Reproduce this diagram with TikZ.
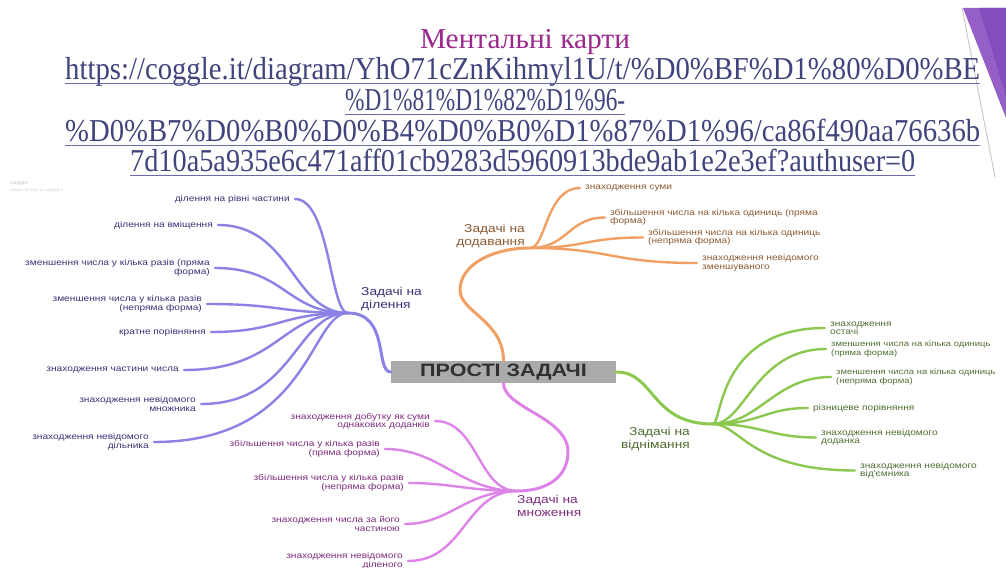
\documentclass[tikz,border=0pt]{standalone}
\usepackage{fontspec}
\usepackage{graphicx}
\setmainfont{Liberation Serif}
\newfontfamily\dfont[FakeStretch=1.2]{Liberation Sans}
\definecolor{titlec}{RGB}{155,40,140}
\definecolor{urlc}{RGB}{64,68,124}
\definecolor{ulc}{RGB}{105,108,168}
\definecolor{pcol}{RGB}{140,130,230}
\definecolor{ptext}{RGB}{58,50,120}
\definecolor{ocol}{RGB}{240,160,100}
\definecolor{otext}{RGB}{140,90,50}
\definecolor{gcol}{RGB}{140,200,80}
\definecolor{gtext}{RGB}{80,110,50}
\definecolor{kcol}{RGB}{222,132,232}
\definecolor{ktext}{RGB}{125,45,125}
\definecolor{cfill}{RGB}{170,170,170}
\definecolor{ctext}{RGB}{48,48,48}
\definecolor{trimain}{RGB}{150,95,200}
\definecolor{tridark}{RGB}{132,76,188}
\begin{document}
\begin{tikzpicture}[x=1bp,y=-1bp,
  leafL/.style={anchor=east, align=right, inner xsep=5bp, inner ysep=0pt, font=\dfont\fontsize{8.5}{8.5}\selectfont},
  leafR/.style={anchor=west, align=left, inner xsep=5bp, inner ysep=0pt, font=\dfont\fontsize{8.5}{8.5}\selectfont},
  leafRs/.style={leafR, font=\dfont\fontsize{7.9}{8.5}\selectfont},
  blbl/.style={inner sep=0pt, font=\dfont\fontsize{11.5}{12.5}\selectfont},
  leafline/.style={line width=2.4bp, line cap=round},
  trunk/.style={line width=3bp, line cap=round},
  urlnode/.style={anchor=base west, inner sep=0pt, text=urlc, font=\fontsize{32}{32}\selectfont},
  uline/.style={draw=ulc, line width=1.3bp},
  centerbox/.style={fill=cfill, minimum width=225bp, minimum height=22bp, inner sep=0pt, text=ctext, font=\dfont\bfseries\fontsize{18}{18}\selectfont}
]
\path[use as bounding box] (0,0) rectangle (1006,568);
\clip (0,0) rectangle (1006,568);
\fill[white] (0,0) rectangle (1006,568);

% decoration top right
\fill[trimain] (963,8) -- (1006,8) -- (1006,118) -- cycle;
\fill[tridark] (979,8) -- (1006,8) -- (1006,96) -- cycle;
\draw[gray!40, line width=1bp] (962,8) -- (995,177);

% title and link
\node[anchor=base, inner sep=0pt, text=titlec, font=\fontsize{29}{29}\selectfont] (title) at (525,49) {\resizebox{210bp}{\height}{Ментальні карти}};
\node[urlnode] (u1) at (65,80) {\resizebox{915bp}{\height}{https://coggle.it/diagram/YhO71cZnKihmyl1U/t/\%D0\%BF\%D1\%80\%D0\%BE}};
\node[urlnode] (u2) at (345,111) {\resizebox{280bp}{\height}{\%D1\%81\%D1\%82\%D1\%96-}};
\node[urlnode] (u3) at (65,142) {\resizebox{915bp}{\height}{\%D0\%B7\%D0\%B0\%D0\%B4\%D0\%B0\%D1\%87\%D1\%96/ca86f490aa76636b}};
\node[urlnode] (u4) at (130,172) {\resizebox{785bp}{\height}{7d10a5a935e6c471aff01cb9283d5960913bde9ab1e2e3ef?authuser=0}};
\foreach \u in {u1,u2,u3,u4}{
  \draw[uline] ([yshift=-3.5bp]\u.base west) -- ([yshift=-3.5bp]\u.base east);
}

% watermark
\node[anchor=west, inner sep=0pt, text=gray!45, font=\dfont\fontsize{5}{5}\selectfont] (wm1) at (10,183) {coggle};
\node[anchor=west, inner sep=0pt, text=gray!35, font=\dfont\fontsize{4}{4}\selectfont] (wm2) at (10,190) {made for free at coggle.it};

% center
\node[centerbox] (c) at (503.5,372) {ПРОСТІ ЗАДАЧІ};

% hubs
\coordinate (hP) at (348,313);
\coordinate (hO) at (530,248);
\coordinate (hG) at (713,424);
\coordinate (hK) at (517,491);
\coordinate (oBend) at (460,290);
\coordinate (kBend) at (568,452);

% trunks
\draw[trunk,pcol] (c.west) .. controls +(-16,0) and +(42,0) .. (hP);
\draw[trunk,ocol] (c.north) .. controls +(0,-40) and +(0,22) .. (oBend) .. controls +(0,-25) and +(-38,0) .. (hO);
\draw[trunk,gcol] (c.east) .. controls +(39,0) and +(-63,0) .. (hG);
\draw[trunk,kcol] (c.south) .. controls +(0,25) and +(0,-35) .. (kBend) .. controls +(0,25) and +(30,0) .. (hK);

% branch labels
\node[blbl, anchor=west, align=left, text=ptext] (lp) at (361,299) {Задачі на\\ділення};
\node[blbl, anchor=east, align=right, text=otext] (lo) at (525,236) {Задачі на\\додавання};
\node[blbl, anchor=east, align=right, text=gtext] (lg) at (690,439) {Задачі на\\віднімання};
\node[blbl, anchor=west, align=left, text=ktext] (lk) at (517,506) {Задачі на\\множення};

% purple leaves
\node[leafL,text=ptext] (p1) at (295,199) {ділення на рівні частини};
\node[leafL,text=ptext] (p2) at (218,225) {ділення на вміщення};
\node[leafL,text=ptext] (p3) at (215,268) {зменшення числа у кілька разів (пряма\\форма)};
\node[leafL,text=ptext] (p4) at (207,304) {зменшення числа у кілька разів\\(непряма форма)};
\node[leafL,text=ptext] (p5) at (211,332) {кратне порівняння};
\node[leafL,text=ptext] (p6) at (184,370) {знаходження частини числа};
\node[leafL,text=ptext] (p7) at (201,404) {знаходження невідомого\\множника};
\node[leafL,text=ptext] (p8) at (154,442) {знаходження невідомого\\дільника};
\draw[leafline,pcol] (p1.east) .. controls +(35,0) and +(-18,0) .. (hP);
\draw[leafline,pcol] (p2.east) .. controls +(74,0) and +(-56,0) .. (hP);
\draw[leafline,pcol] (p3.east) .. controls +(71,0) and +(-62,0) .. (hP);
\draw[leafline,pcol] (p4.east) .. controls +(73,0) and +(-68,0) .. (hP);
\draw[leafline,pcol] (p5.east) .. controls +(69,0) and +(-68,0) .. (hP);
\draw[leafline,pcol] (p6.east) .. controls +(96,0) and +(-68,0) .. (hP);
\draw[leafline,pcol] (p7.east) .. controls +(94,0) and +(-53,0) .. (hP);
\draw[leafline,pcol] (p8.east) .. controls +(156,0) and +(-38,0) .. (hP);

% orange leaves
\node[leafR,text=otext] (o1) at (580,188) {знаходження суми};
\node[leafR,text=otext] (o2) at (605,217.5) {збільшення числа на кілька одиниць (пряма\\форма)};
\node[leafR,text=otext] (o3) at (643,237.5) {збільшення числа на кілька одиниць\\(непряма форма)};
\node[leafR,text=otext] (o4) at (697,263) {знаходження невідомого\\зменшуваного};
\draw[leafline,ocol] (hO) .. controls +(16,0) and +(-34,0) .. (o1.west);
\draw[leafline,ocol] (hO) .. controls +(38,0) and +(-37,0) .. (o2.west);
\draw[leafline,ocol] (hO) .. controls +(55,0) and +(-58,0) .. (o3.west);
\draw[leafline,ocol] (hO) .. controls +(80,0) and +(-87,0) .. (o4.west);

% green leaves
\node[leafR,text=gtext] (g1) at (825,328) {знаходження\\остачі};
\node[leafRs,text=gtext] (g2) at (826,349) {зменшення числа на кілька одиниць\\(пряма форма)};
\node[leafRs,text=gtext] (g3) at (831,377) {зменшення числа на кілька одиниць\\(непряма форма)};
\node[leafR,text=gtext] (g4) at (808,408) {різницеве порівняння};
\node[leafR,text=gtext] (g5) at (816,437.5) {знаходження невідомого\\доданка};
\node[leafR,text=gtext] (g6) at (855,470.5) {знаходження невідомого\\від'ємника};
\draw[leafline,gcol] (hG) .. controls +(9,0) and +(-108,0) .. (g1.west);
\draw[leafline,gcol] (hG) .. controls +(32,0) and +(-71,0) .. (g2.west);
\draw[leafline,gcol] (hG) .. controls +(47,0) and +(-57,0) .. (g3.west);
\draw[leafline,gcol] (hG) .. controls +(47,0) and +(-43,0) .. (g4.west);
\draw[leafline,gcol] (hG) .. controls +(47,0) and +(-46,0) .. (g5.west);
\draw[leafline,gcol] (hG) .. controls +(27,0) and +(-105,0) .. (g6.west);

% pink leaves
\node[leafL,text=ktext] (k1) at (435,421) {знаходження добутку як суми\\однакових доданків};
\node[leafL,text=ktext] (k2) at (385,449) {збільшення числа у кілька разів\\(пряма форма)};
\node[leafL,text=ktext] (k3) at (409,483) {збільшення числа у кілька разів\\(непряма форма)};
\node[leafL,text=ktext] (k4) at (405,524) {знаходження числа за його\\частиною};
\node[leafL,text=ktext] (k5) at (408,561) {знаходження невідомого\\діленого};
\draw[leafline,kcol] (k1.east) .. controls +(43,0) and +(-39,0) .. (hK);
\draw[leafline,kcol] (k2.east) .. controls +(55,0) and +(-57,0) .. (hK);
\draw[leafline,kcol] (k3.east) .. controls +(41,0) and +(-47,0) .. (hK);
\draw[leafline,kcol] (k4.east) .. controls +(45,0) and +(-52,0) .. (hK);
\draw[leafline,kcol] (k5.east) .. controls +(57,0) and +(-52,0) .. (hK);
\end{tikzpicture}
\end{document}
